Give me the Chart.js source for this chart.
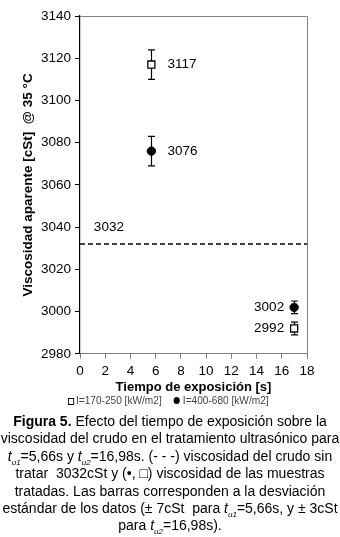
<!DOCTYPE html>
<html>
<head>
<meta charset="utf-8">
<script src="https://cdn.jsdelivr.net/npm/chart.js@4.4.1/dist/chart.umd.min.js"></script>
<style>
  body { margin: 0; background: #fff; width: 340px; height: 537px; position: relative; overflow: hidden; }
  #wrap { position: absolute; left: 0; top: 0; width: 340px; height: 410px; }
  #leyenda {
    position: absolute; left: 68px; top: 393px; height: 14px; line-height: 14px;
    font-family: 'Liberation Sans', Arial, sans-serif; font-size: 11.5px; color: #444; white-space: nowrap;
    transform: scaleX(0.88); transform-origin: 0 50%;
  }
  #leyenda span.item { margin-right: 14px; }
  #leyenda i.cuad { display: inline-block; width: 5px; height: 5px; border: 1.8px solid #000; background: #fff; margin-right: 2px; vertical-align: -0.5px; }
  #leyenda i.circ { display: inline-block; width: 7px; height: 7px; border-radius: 50%; background: #000; margin-right: 3px; vertical-align: 0px; }
  #caption {
    position: absolute; left: 0; top: 413px; width: 340px;
    font-family: 'Liberation Sans', Arial, sans-serif; font-size: 14px; line-height: 17.4px;
    text-align: center; white-space: nowrap; color: #000;
  }
  #caption sub { font-size: 8px; line-height: 0; }
</style>
</head>
<body>
<div id="wrap"><canvas id="grafico"></canvas></div>
<div id="leyenda"></div>
<div id="caption">
<b>Figura 5.</b> Efecto del tiempo de exposición sobre la<br>
viscosidad del crudo en el tratamiento ultrasónico para<br>
<i>t<sub>u1</sub></i>=5,66s y <i>t<sub>u2</sub></i>=16,98s. (- - -) viscosidad del crudo sin<br>
tratar&nbsp; 3032cSt y (•, □) viscosidad de las muestras<br>
tratadas. Las barras corresponden a la desviación<br>
estándar de los datos (± 7cSt&nbsp; para <i>t<sub>u1</sub></i>=5,66s, y ± 3cSt<br>
para <i>t<sub>u2</sub></i>=16,98s).
</div>
<script>
// datos
const tiempo = [5.66, 16.98];
const viscBaja = [3117, 2992];   // I=170-250 kW/m2
const viscAlta = [3076, 3002];   // I=400-680 kW/m2
const desviacion = [7, 3];
const sinTratar = 3032;
const xTicks = [0, 2, 4, 6, 8, 10, 12, 14, 16, 18];
const yTicks = [2980, 3000, 3020, 3040, 3060, 3080, 3100, 3120, 3140];

const fuente = "'Liberation Sans', Arial, sans-serif";

// barras de error, etiquetas de valor y marco
const barrasError = {
  id: 'barrasError',
  beforeDatasetsDraw(chart) {
    const ctx = chart.ctx;
    const xs = chart.scales.x, ys = chart.scales.y;
    ctx.save();
    ctx.strokeStyle = '#000';
    ctx.lineWidth = 1.2;
    chart.data.datasets.forEach(ds => {
      if (!ds.err) return;
      ds.data.forEach((p, i) => {
        const px = Math.round(xs.getPixelForValue(p.x)) + 0.5;
        const y1 = ys.getPixelForValue(p.y + ds.err[i]);
        const y2 = ys.getPixelForValue(p.y - ds.err[i]);
        ctx.beginPath();
        ctx.moveTo(px, y1); ctx.lineTo(px, y2);
        ctx.moveTo(px - 3.5, y1); ctx.lineTo(px + 3.5, y1);
        ctx.moveTo(px - 3.5, y2); ctx.lineTo(px + 3.5, y2);
        ctx.stroke();
      });
    });
    ctx.restore();
  },
  afterDatasetsDraw(chart) {
    const ctx = chart.ctx;
    const xs = chart.scales.x, ys = chart.scales.y;
    const a = chart.chartArea;
    ctx.save();
    // marco superior y derecho
    ctx.strokeStyle = '#808080';
    ctx.lineWidth = 1;
    ctx.beginPath();
    ctx.moveTo(a.left, a.top + 0.5); ctx.lineTo(a.right + 0.5, a.top + 0.5);
    ctx.lineTo(a.right + 0.5, a.bottom);
    ctx.stroke();

    ctx.fillStyle = '#000';
    ctx.font = '13.5px ' + fuente;
    ctx.textBaseline = 'middle';
    chart.data.datasets.forEach(ds => {
      if (!ds.err) return;
      ds.data.forEach((p, i) => {
        const px = xs.getPixelForValue(p.x);
        const py = ys.getPixelForValue(p.y);
        if (i === 0) { ctx.textAlign = 'left'; ctx.fillText(String(p.y), px + 16, py); }
        else { ctx.textAlign = 'right'; ctx.fillText(String(p.y), px - 10, py); }
      });
    });
    ctx.textAlign = 'left';
    ctx.fillText(String(sinTratar), xs.getPixelForValue(1.1), ys.getPixelForValue(3040));
    ctx.restore();
  }
};

const ctx = document.getElementById('grafico').getContext('2d');
const grafico = new Chart(ctx, {
  type: 'scatter',
  data: {
    datasets: [
      {
        label: 'I=170-250 [kW/m2]',
        data: tiempo.map((t, i) => ({ x: t, y: viscBaja[i] })),
        err: desviacion,
        pointStyle: 'rect',
        pointRadius: 5,
        pointBorderWidth: 1.3,
        borderColor: '#000',
        backgroundColor: '#fff',
        order: 1
      },
      {
        label: 'I=400-680 [kW/m2]',
        data: tiempo.map((t, i) => ({ x: t, y: viscAlta[i] })),
        err: desviacion,
        pointStyle: 'circle',
        pointRadius: 4.2,
        pointBorderWidth: 1,
        borderColor: '#000',
        backgroundColor: '#000',
        order: 2
      },
      {
        label: 'sin tratar',
        type: 'line',
        data: [{ x: xTicks[0], y: sinTratar }, { x: xTicks[xTicks.length - 1], y: sinTratar }],
        borderColor: '#000',
        borderWidth: 1.4,
        borderDash: [5, 3],
        pointRadius: 0,
        fill: false,
        order: 3
      }
    ]
  },
  options: {
    responsive: true,
    maintainAspectRatio: false,
    animation: false,
    layout: { padding: { top: 16, right: 33, left: 0, bottom: 16 } },
    plugins: {
      tooltip: { enabled: false },
      legend: { display: false }
    },
    scales: {
      x: {
        type: 'linear',
        min: 0, max: 18,
        afterBuildTicks: s => { s.ticks = xTicks.map(v => ({ value: v })); },
        grid: { drawOnChartArea: false, drawTicks: true, tickLength: 5, color: '#808080' },
        border: { color: '#808080', width: 1 },
        ticks: { color: '#000', padding: 4, font: { family: fuente, size: 13.5 }, callback: v => String(v) },
        title: {
          display: true,
          text: 'Tiempo de exposición [s]',
          color: '#000',
          font: { family: fuente, size: 13, weight: 'bold', lineHeight: 1 },
          padding: { top: -2, bottom: 0 }
        }
      },
      y: {
        min: 2980, max: 3140,
        afterBuildTicks: s => { s.ticks = yTicks.map(v => ({ value: v })); },
        afterFit: s => { s.width = 80; },
        grid: { drawOnChartArea: false, drawTicks: true, tickLength: 5, color: '#000' },
        border: { color: '#000', width: 1.2 },
        ticks: { color: '#000', padding: 4, font: { family: fuente, size: 13.5 }, callback: v => String(v) },
        title: {
          display: true,
          text: 'Viscosidad aparente [cSt]  @ 35 °C',
          color: '#000',
          font: { family: fuente, size: 13.5, weight: 'bold' },
          padding: { top: 20, bottom: 0 }
        }
      }
    }
  },
  plugins: [barrasError]
});

// leyenda en HTML a partir de las series
document.getElementById('leyenda').innerHTML = grafico.data.datasets
  .filter(ds => ds.err)
  .map(ds => '<span class="item"><i class="' + (ds.pointStyle === 'rect' ? 'cuad' : 'circ') + '"></i>' + ds.label + '</span>')
  .join('');
</script>
</body>
</html>
